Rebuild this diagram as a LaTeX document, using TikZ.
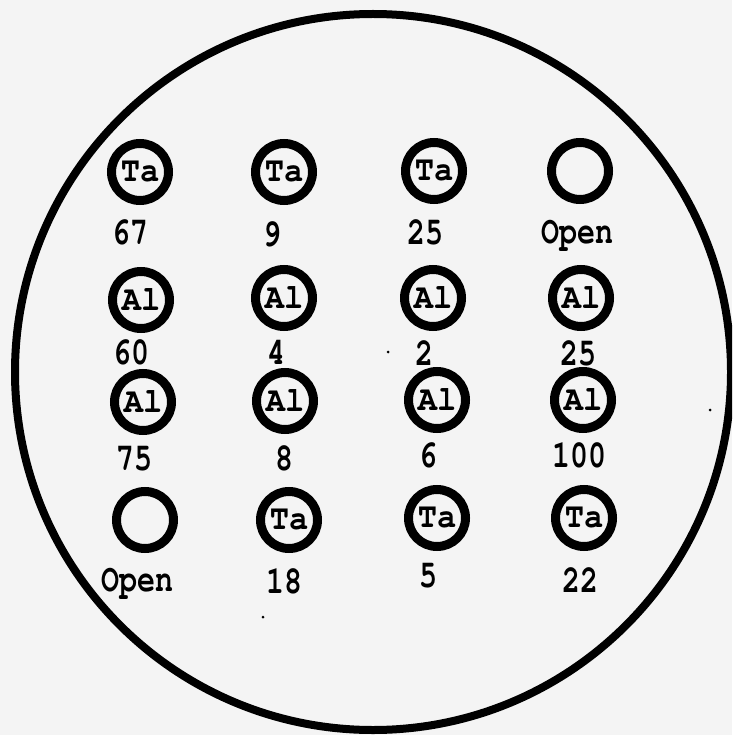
\documentclass[tikz,border=0pt]{standalone}
\usepackage{fontspec}
\setmonofont{texgyrecursor}[Extension=.otf, UprightFont=*-regular, BoldFont=*-bold]
\definecolor{bg}{HTML}{F4F4F4}
\tikzset{
  ring/.style={circle, draw=black, line width=9pt, minimum size=57pt, inner sep=0pt,
    font=\ttfamily\bfseries\fontsize{32}{32}\selectfont},
  lab/.style={inner sep=0pt, text depth=0pt, font=\ttfamily\bfseries\fontsize{30}{30}\selectfont},
  rim/.style={draw=black, line width=8pt},
  speck/.style={fill=black, inner sep=0pt, minimum size=3pt, circle}
}
\newcommand{\tallnum}[1]{\scalebox{1}[1.3]{#1}}
\newcommand{\midtxt}[1]{\scalebox{1}[1.1]{#1}}
\begin{document}
\begin{tikzpicture}[x=1pt,y=-1pt]
  \fill[bg] (0,0) rectangle (732,735);
  \useasboundingbox (0,0) rectangle (732,735);
  \begin{scope}
    \clip (0,0) rectangle (732,735);
    \draw[rim] (373,372) circle[radius=358];
  \end{scope}
  % row 1
  \node[ring] (c11) at (140,172) {\midtxt{Ta}};
  \node[ring] (c12) at (284,172) {\midtxt{Ta}};
  \node[ring] (c13) at (434,171) {\midtxt{Ta}};
  \node[ring] (c14) at (580,171) {};
  \node[lab] (l11) at (130,232) {\tallnum{67}};
  \node[lab] (l12) at (272,234) {\tallnum{9}};
  \node[lab] (l13) at (425,232) {\tallnum{25}};
  \node[lab] (l14) at (577,232) {\tallnum{Open}};
  % row 2
  \node[ring] (c21) at (141,300) {\midtxt{Al}};
  \node[ring] (c22) at (284,298) {\midtxt{Al}};
  \node[ring] (c23) at (433,298) {\midtxt{Al}};
  \node[ring] (c24) at (581,298) {\midtxt{Al}};
  \node[lab] (l21) at (131,352) {\tallnum{60}};
  \node[lab] (l22) at (276,352) {\tallnum{4}};
  \node[lab] (l23) at (424,353) {\tallnum{2}};
  \node[lab] (l24) at (578,353) {\tallnum{25}};
  % row 3
  \node[ring] (c31) at (143,402) {\midtxt{Al}};
  \node[ring] (c32) at (285,401) {\midtxt{Al}};
  \node[ring] (c33) at (437,400) {\midtxt{Al}};
  \node[ring] (c34) at (583,400) {\midtxt{Al}};
  \node[lab] (l31) at (134,458) {\tallnum{75}};
  \node[lab] (l32) at (284,458) {\tallnum{8}};
  \node[lab] (l33) at (428,455) {\tallnum{6}};
  \node[lab] (l34) at (579,455) {\tallnum{100}};
  % row 4
  \node[ring] (c41) at (145,520) {};
  \node[ring] (c42) at (289,520) {\midtxt{Ta}};
  \node[ring] (c43) at (437,518) {\midtxt{Ta}};
  \node[ring] (c44) at (584,518) {\midtxt{Ta}};
  \node[lab] (l41) at (137,580) {\tallnum{Open}};
  \node[lab] (l42) at (284,581) {\tallnum{18}};
  \node[lab] (l43) at (428,575) {\tallnum{5}};
  \node[lab] (l44) at (580,580) {\tallnum{22}};
  % specks
  \node[speck] (s1) at (388,352) {};
  \node[speck] (s2) at (710,410) {};
  \node[speck] (s3) at (263,617) {};
\end{tikzpicture}
\end{document}
